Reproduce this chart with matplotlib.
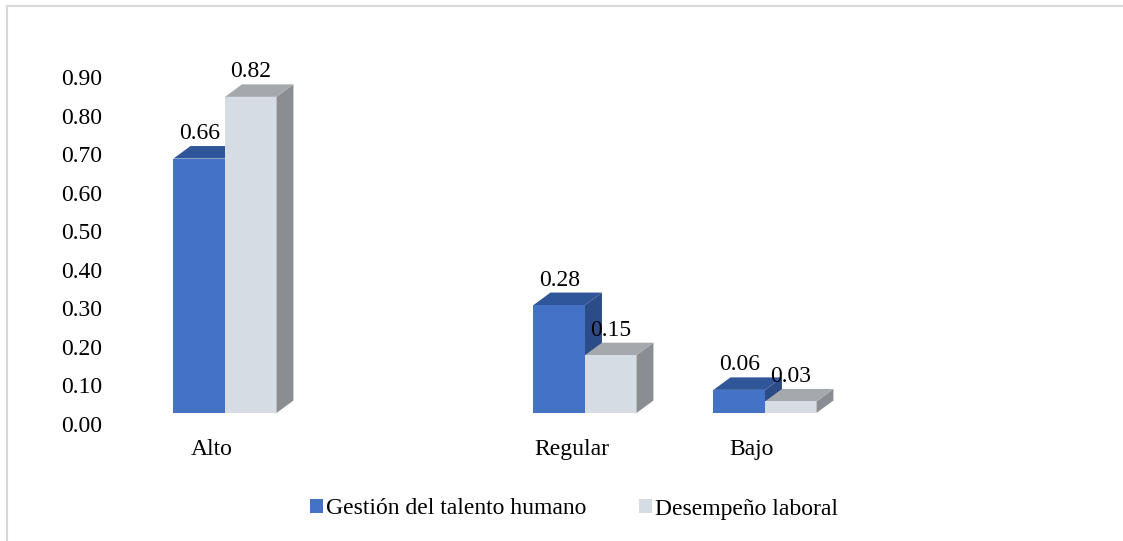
import matplotlib.pyplot as plt
from matplotlib.patches import Polygon, Rectangle, Patch
from matplotlib.lines import Line2D

# Datos
categorias = ['Alto', 'Regular', 'Bajo']
posiciones = [0, 2, 3]
gestion = [0.66, 0.28, 0.06]
desempeno = [0.82, 0.15, 0.03]
series = ['Gestión del talento humano', 'Desempeño laboral']
yticks = [0.0, 0.1, 0.2, 0.3, 0.4, 0.5, 0.6, 0.7, 0.8, 0.9]

# Colores (frente, techo, lado)
azul = ('#4472C4', '#30569A', '#2B4C86')
gris = ('#D6DCE4', '#A5A8AD', '#8A8D92')

plt.rcParams['font.family'] = ['Liberation Serif', 'DejaVu Serif']
tam = 17

W, H = 1123, 541
fig = plt.figure(figsize=(W / 100, H / 100), dpi=100)
ax = fig.add_axes([122 / W, (H - 424) / H, 900 / W, 347 / H])
ax.set_xlim(-0.5, 4.5)
ax.set_ylim(0, 0.9)

# geometria del efecto 3D
base = 0.0285
ancho = 0.286
dx, dy = 0.0944, 0.0324
x_inicio = -0.214


def barra_3d(x0, v, colores):
    frente, techo, lado = colores
    y1 = base + v
    ax.add_patch(Polygon([(x0 + ancho, base), (x0 + ancho + dx, base + dy),
                          (x0 + ancho + dx, y1 + dy), (x0 + ancho, y1)],
                         closed=True, facecolor=lado, edgecolor='none', clip_on=False))
    ax.add_patch(Polygon([(x0, y1), (x0 + ancho, y1),
                          (x0 + ancho + dx, y1 + dy), (x0 + dx, y1 + dy)],
                         closed=True, facecolor=techo, edgecolor='none', clip_on=False))
    ax.add_patch(Rectangle((x0, base), ancho, v, facecolor=frente,
                           edgecolor='none', clip_on=False))
    ax.annotate(f'{v:.2f}', (x0 + ancho / 2, y1), xytext=(0, 18),
                textcoords='offset points', ha='center', va='center',
                fontsize=tam, color='black')


for p, g, d in zip(posiciones, gestion, desempeno):
    barra_3d(p + x_inicio, g, azul)
    barra_3d(p + x_inicio + ancho, d, gris)

for s in ax.spines.values():
    s.set_visible(False)
ax.set_yticks(yticks)
ax.set_yticklabels([f'{t:.2f}' for t in yticks], fontsize=tam)
ax.set_xticks(posiciones)
ax.set_xticklabels(categorias, fontsize=tam)
ax.tick_params(axis='y', length=0, pad=14)
ax.tick_params(axis='x', length=0, pad=11)

# leyenda
handles = [Patch(facecolor=azul[0]), Patch(facecolor=gris[0])]
fig.legend(handles, series, loc='center', bbox_to_anchor=(574 / W, 1 - 509 / H),
           ncol=2, frameon=False, fontsize=tam, handlelength=0.55,
           handleheight=0.55, handletextpad=0.15, columnspacing=2.2)

# marco del grafico
fig.add_artist(Line2D([7 / W, 7 / W], [0, 1 - 6 / H], color='#D9D9D9', lw=1.5))
fig.add_artist(Line2D([7 / W, 1], [1 - 6 / H, 1 - 6 / H], color='#D9D9D9', lw=1.5))

fig.savefig('out.png', dpi=100)
